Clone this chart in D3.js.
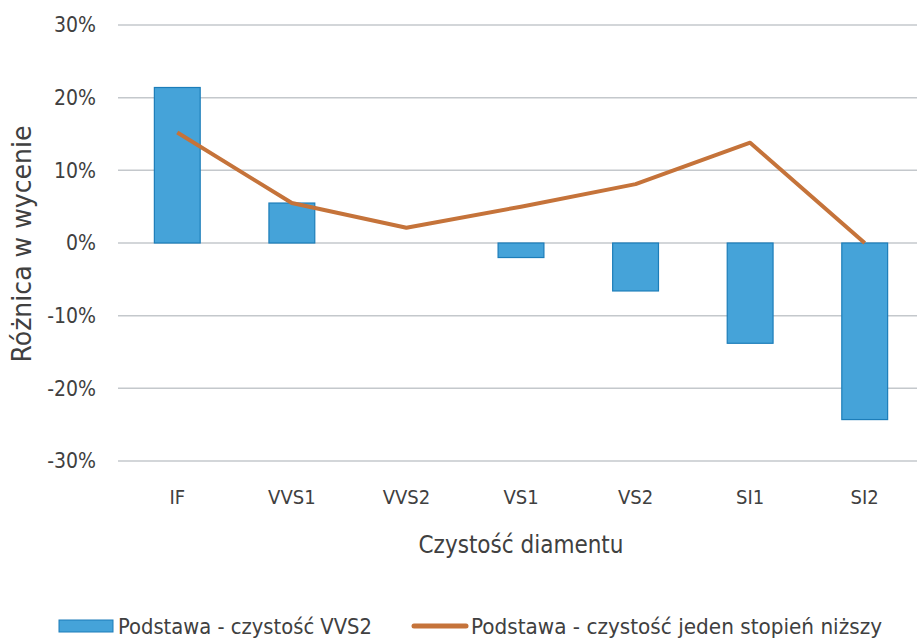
<!DOCTYPE html>
<html>
<head>
<meta charset="utf-8">
<script src="https://cdn.jsdelivr.net/npm/d3@7"></script>
<style>
  body { margin: 0; background: #fff; }
  text { font-family: "Liberation Sans Narrow", "DejaVu Sans Condensed", "Open Sans", sans-serif; fill: #404040; }
</style>
</head>
<body>
<svg id="chart" width="917" height="640"></svg>
<script>
const categories = ["IF", "VVS1", "VVS2", "VS1", "VS2", "SI1", "SI2"];
const barValues = [0.214, 0.055, 0.0, -0.02, -0.066, -0.138, -0.243];
const lineValues = [0.152, 0.055, 0.021, 0.05, 0.081, 0.138, 0.0];
const yTicks = [-0.3, -0.2, -0.1, 0, 0.1, 0.2, 0.3];
const barName = "Podstawa - czystość VVS2";
const lineName = "Podstawa - czystość jeden stopień niższy";

const svg = d3.select("#chart");
const plotLeft = 120, plotRight = 922, plotTop = 25, plotBottom = 461;

const x = d3.scaleBand().domain(categories).range([plotLeft, plotRight]).paddingInner(0.6).paddingOuter(0.3);
const xc = d => x(d) + x.bandwidth() / 2;
const y = d3.scaleLinear().domain([-0.3, 0.3]).range([plotBottom, plotTop]);

// gridlines
svg.append("g").selectAll("line").data(yTicks).enter().append("line")
  .attr("x1", 118).attr("x2", 917)
  .attr("y1", d => y(d)).attr("y2", d => y(d))
  .attr("stroke", "#c4c8cc").attr("stroke-width", 1.5);

// y labels (plain hyphen like the original)
svg.append("g").selectAll("text").data(yTicks).enter().append("text")
  .attr("x", 96).attr("y", d => y(d)).attr("dy", "0.35em")
  .attr("text-anchor", "end").style("font-size", "21px")
  .text(d => Math.round(d * 100) + "%");

// bars
svg.append("g").selectAll("rect").data(barValues).enter().append("rect")
  .attr("x", (d, i) => x(categories[i]))
  .attr("width", x.bandwidth())
  .attr("y", d => y(Math.max(0, d)))
  .attr("height", d => Math.abs(y(d) - y(0)))
  .attr("fill", "#45a3d9").attr("stroke", "#1c7db9").attr("stroke-width", 1.2);

// line
const line = d3.line().x((d, i) => xc(categories[i])).y(d => y(d));
svg.append("path").datum(lineValues)
  .attr("d", line).attr("fill", "none")
  .attr("stroke", "#c5733a").attr("stroke-width", 4).attr("stroke-linejoin", "round");

// x labels
svg.append("g").selectAll("text").data(categories).enter().append("text")
  .attr("x", d => xc(d)).attr("y", 497).attr("dy", "0.35em")
  .attr("text-anchor", "middle").style("font-size", "20px")
  .text(d => d);

svg.append("text").attr("x", 521).attr("y", 545).attr("dy", "0.35em")
  .attr("text-anchor", "middle").style("font-size", "24px")
  .attr("textLength", 205).attr("lengthAdjust", "spacingAndGlyphs")
  .text("Czystość diamentu");

svg.append("text").attr("transform", "translate(22,244) rotate(-90)")
  .attr("dy", "0.35em").attr("text-anchor", "middle").style("font-size", "26px")
  .attr("textLength", 237).attr("lengthAdjust", "spacingAndGlyphs")
  .text("Różnica w wycenie");

// legend
const lg = svg.append("g");
lg.append("rect").attr("x", 59).attr("y", 620).attr("width", 54).attr("height", 12)
  .attr("fill", "#45a3d9").attr("stroke", "#1c7db9").attr("stroke-width", 1);
lg.append("text").attr("x", 118).attr("y", 626).attr("dy", "0.35em")
  .style("font-size", "22px")
  .attr("textLength", 254).attr("lengthAdjust", "spacingAndGlyphs")
  .text(barName);
lg.append("line").attr("x1", 414).attr("x2", 466).attr("y1", 626).attr("y2", 626)
  .attr("stroke", "#c5733a").attr("stroke-width", 5).attr("stroke-linecap", "round");
lg.append("text").attr("x", 471).attr("y", 626).attr("dy", "0.35em")
  .style("font-size", "22px")
  .attr("textLength", 411).attr("lengthAdjust", "spacingAndGlyphs")
  .text(lineName);
</script>
</body>
</html>
